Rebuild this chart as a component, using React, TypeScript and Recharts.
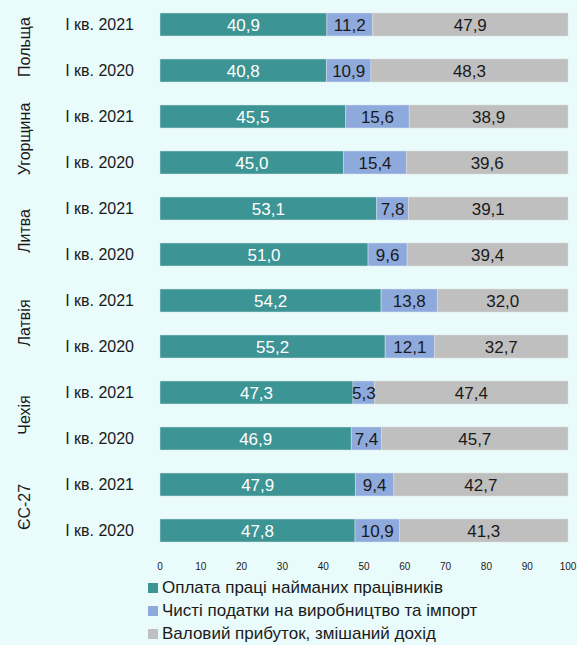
import { Bar, BarChart, LabelList, Legend, XAxis, YAxis } from "recharts"

const countries = ["Польща", "Угорщина", "Литва", "Латвія", "Чехія", "ЄС-27"]
const periods = ["I кв. 2021", "I кв. 2020"]

// order: country1 2021, country1 2020, country2 2021, ...
const wages = [40.9, 40.8, 45.5, 45.0, 53.1, 51.0, 54.2, 55.2, 47.3, 46.9, 47.9, 47.8]
const taxes = [11.2, 10.9, 15.6, 15.4, 7.8, 9.6, 13.8, 12.1, 5.3, 7.4, 9.4, 10.9]
const profit = [47.9, 48.3, 38.9, 39.6, 39.1, 39.4, 32.0, 32.7, 47.4, 45.7, 42.7, 41.3]

const xTicks = [0, 10, 20, 30, 40, 50, 60, 70, 80, 90, 100]

const seriesNames = [
  "Оплата праці найманих працівників",
  "Чисті податки на виробництво та імпорт",
  "Валовий прибуток, змішаний дохід",
]
const colors = ["#3d9494", "#8eaadc", "#bfbfbf"]

const data = wages.map((w, i) => ({
  id: String(i),
  country: countries[Math.floor(i / 2)],
  period: periods[i % 2],
  wages: w,
  taxes: taxes[i],
  profit: profit[i],
}))

const font = "Liberation Sans, Arial, sans-serif"
const fmt = (v: any) => Number(v).toFixed(1).replace(".", ",")

function RowTick(props: any) {
  const { y, payload } = props
  const i = Number(payload.value)
  const row = data[i]
  return (
    <g>
      <text x={134} y={y} textAnchor="end" dominantBaseline="central" fontSize={16} fill="#1a1a1a" fontFamily={font}>
        {row.period}
      </text>
      {i % 2 === 0 && (
        <text
          x={24}
          y={y + 23}
          transform={`rotate(-90 24 ${y + 23})`}
          textAnchor="middle"
          dominantBaseline="central"
          fontSize={16}
          fill="#1a1a1a"
          fontFamily={font}
        >
          {row.country}
        </text>
      )}
    </g>
  )
}

const makeLabel = (color: string) => (props: any) => {
  const { x, y, width, height, value } = props
  return (
    <text
      x={Number(x) + Number(width) / 2}
      y={Number(y) + Number(height) / 2 + 1}
      textAnchor="middle"
      dominantBaseline="central"
      fontSize={17}
      fill={color}
      fontFamily={font}
    >
      {fmt(value)}
    </text>
  )
}

function LegendBox() {
  return (
    <div style={{ height: 70, boxSizing: "border-box", paddingLeft: 148, paddingTop: 1, fontFamily: font, fontSize: 17, color: "#1a1a1a" }}>
      {seriesNames.map((n, i) => (
        <div key={n} style={{ display: "flex", alignItems: "center", height: 23 }}>
          <span style={{ display: "inline-block", width: 10, height: 10, background: colors[i], marginRight: 4 }} />
          {n}
        </div>
      ))}
    </div>
  )
}

export default function App() {
  return (
    <div style={{ position: "absolute", left: 0, top: 0, width: 577, height: 645, background: "#eafbfb", fontFamily: font }}>
      <BarChart
        width={577}
        height={645}
        data={data}
        layout="vertical"
        margin={{ top: 1, right: 9, bottom: 0, left: 0 }}
        barSize={23}
      >
        <XAxis
          type="number"
          domain={[0, 100]}
          ticks={xTicks}
          tickLine={false}
          axisLine={false}
          height={22}
          tick={{ fontSize: 10, fill: "#1a1a1a", fontFamily: font, dy: 2 }}
          interval={0}
        />
        <YAxis
          type="category"
          dataKey="id"
          width={160}
          tickLine={false}
          axisLine={false}
          tick={<RowTick />}
          interval={0}
        />
        <Legend verticalAlign="bottom" align="left" content={<LegendBox />} wrapperStyle={{ left: 0, width: 577 }} />
        <Bar dataKey="wages" name={seriesNames[0]} stackId="a" fill={colors[0]} stroke="#d9e6e6" strokeWidth={0.5} isAnimationActive={false}>
          <LabelList dataKey="wages" content={makeLabel("#ffffff")} />
        </Bar>
        <Bar dataKey="taxes" name={seriesNames[1]} stackId="a" fill={colors[1]} stroke="#d9e0ee" strokeWidth={0.5} isAnimationActive={false}>
          <LabelList dataKey="taxes" content={makeLabel("#1a1a1a")} />
        </Bar>
        <Bar dataKey="profit" name={seriesNames[2]} stackId="a" fill={colors[2]} stroke="#dcdcdc" strokeWidth={0.5} isAnimationActive={false}>
          <LabelList dataKey="profit" content={makeLabel("#1a1a1a")} />
        </Bar>
      </BarChart>
    </div>
  )
}
